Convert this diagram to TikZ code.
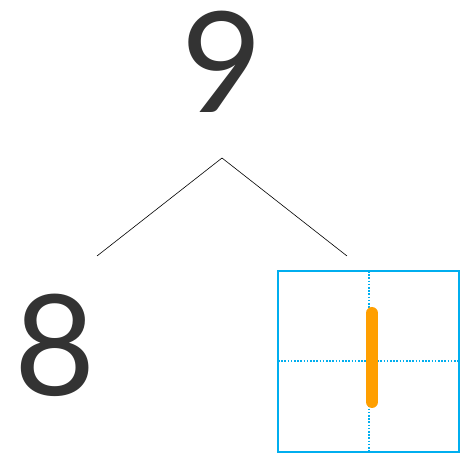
\documentclass[tikz,border=0pt]{standalone}
\usepackage{fontspec}
\setmainfont{Lato}
\usetikzlibrary{positioning, calc}
\definecolor{digitgray}{RGB}{51, 51, 51}
\definecolor{gridblue}{RGB}{0, 174, 239}
\definecolor{strokeorange}{RGB}{255, 159, 0}

\begin{document}
\begin{tikzpicture}[x=1pt, y=-1pt,
    digit/.style={color=digitgray, inner sep=0pt, font=\fontsize{140}{140}\selectfont},
    branch/.style={draw=black, line width=0.6pt},
    gridbox/.style={draw=gridblue, line width=2.2pt},
    gridline/.style={draw=gridblue, line width=1.6pt, dash pattern=on 1.6pt off 1.6pt}]
    \useasboundingbox (0,0) rectangle (464,454);

    % top number and its branches
    \node[digit] (top) at (222, 62) {9};
    \coordinate (fork) at (222, 158);
    \coordinate (leftend) at (97, 256);
    \coordinate (rightend) at (347, 256);
    \draw[branch] (leftend) -- (fork) -- (rightend);

    % left part
    \node[digit] (left) at (55, 345) {8};

    % right part: writing grid with one stroke
    \coordinate (gridnw) at (278, 271);
    \coordinate (gridse) at (459, 452);
    \coordinate (gridc) at (369, 361);
    \draw[gridline] (gridc |- gridnw) -- (gridc |- gridse);
    \draw[gridline] (gridc -| gridnw) -- (gridc -| gridse);
    \draw[gridbox] (gridnw) rectangle (gridse);
    \draw[strokeorange, line width=12pt, line cap=round] (372, 313) -- (372, 402);
\end{tikzpicture}
\end{document}
